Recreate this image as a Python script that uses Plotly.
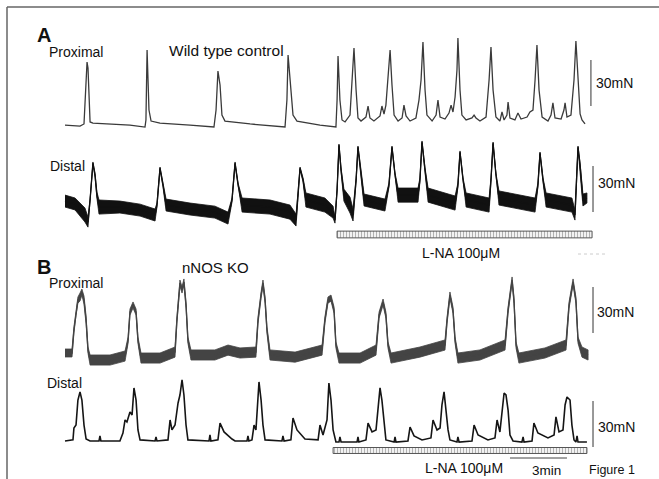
import numpy as np
import plotly.graph_objects as go

# ---------------- data (time in min, force in mN above each trace's resting tone) ----------------
a_prox_t = [0.00, 0.79, 1.00, 1.11, 1.16, 1.21, 1.26, 1.32, 1.47, 2.37, 3.42, 4.21, 4.26, 4.32, 4.37, 4.42, 4.53, 5.00,
            6.58, 7.84, 7.95, 8.05, 8.16, 8.26, 8.42, 9.74, 11.58, 11.68, 11.74, 11.84, 12.00, 12.21, 13.42,
            14.26, 14.32, 14.37, 14.47, 14.58, 14.74, 15.00, 15.11, 15.16, 15.21, 15.32, 15.42, 15.58, 15.84,
            15.95, 16.05, 16.26, 16.58, 16.68, 16.79, 16.89, 17.00, 17.11, 17.21, 17.32, 17.53, 17.74, 17.84,
            17.95, 18.16, 18.47, 18.63, 18.74, 18.84, 18.95, 19.05, 19.32, 19.53, 19.63, 19.74, 20.00, 20.21,
            20.32, 20.42, 20.53, 20.63, 20.68, 20.79, 20.89, 21.11, 21.42, 21.53, 21.63, 21.84, 22.16, 22.32,
            22.42, 22.53, 22.68, 22.89, 23.00, 23.11, 23.26, 23.32, 23.42, 23.68, 23.84, 24.00, 24.32, 24.47,
            24.63, 24.74, 24.84, 24.95, 25.11, 25.42, 25.58, 25.68, 25.79, 26.11, 26.26, 26.32, 26.42, 26.63,
            26.79, 26.89, 27.00, 27.11, 27.21, 27.37]
a_prox_f = [0.0, -0.7, 0.7, 29.4, 41.1, 37.2, 16.3, 2.0, 1.3, 0.7, 0.0, -1.3, 3.3, 48.9, 32.6, 9.8, 2.6, 1.3,
            0.0, -1.3, 9.8, 35.2, 26.1, 6.5, 2.6, 0.7, -1.3, 16.3, 45.7, 29.4, 6.5, 2.6, 0.0,
            -1.3, 16.3, 45.0, 16.3, 3.3, 2.0, 6.5, 26.1, 34.6, 50.2, 22.8, 4.6, 2.6, 5.2,
            12.4, 4.6, 2.6, 5.9, 12.4, 7.2, 13.0, 29.4, 48.9, 26.1, 6.5, 2.6, 4.6, 13.0,
            5.9, 2.6, 4.6, 16.3, 29.4, 54.1, 22.8, 6.5, 2.6, 6.5, 16.3, 5.2, 3.9, 7.8,
            13.0, 8.5, 18.3, 35.9, 56.8, 22.8, 6.5, 3.3, 4.6, 6.5, 4.6, 2.6, 5.2, 29.4,
            50.9, 22.8, 5.2, 2.6, 8.5, 3.3, 6.5, 15.0, 4.6, 3.3, 7.8, 3.9, 5.2, 8.5,
            9.8, 29.4, 52.2, 22.8, 5.2, 2.6, 6.5, 14.4, 4.6, 3.9, 9.8, 14.4, 5.2, 6.5,
            29.4, 54.8, 26.1, 7.2, 3.3, 0.7]

a_dist_t = [0.00, 0.53, 1.05, 1.21, 1.32, 1.47, 1.58, 1.68, 1.79, 2.89, 3.95, 4.74, 4.84, 5.00, 5.16, 5.32,
            6.58, 7.89, 8.58, 8.79, 8.95, 9.11, 9.32, 10.79, 11.84, 12.16, 12.26, 12.37, 12.53, 12.68,
            13.68, 14.11, 14.21, 14.32, 14.42, 14.53, 14.68, 15.00, 15.16, 15.32, 15.42, 15.58, 15.74,
            16.84, 17.05, 17.21, 17.37, 17.53, 18.58, 18.68, 18.79, 18.95, 19.11, 20.53, 20.68, 20.79,
            20.95, 21.11, 22.32, 22.42, 22.53, 22.68, 22.84, 24.74, 24.89, 25.00, 25.16, 25.32, 26.68,
            26.84, 26.95, 27.00, 27.11, 27.26, 27.47]
a_dist_f = [2.6, 0.7, -6.5, -11.1, 3.3, 27.4, 19.6, 6.5, -1.3, -1.3, -3.3, -6.5, 0.0, 24.1, 13.0, 0.0,
            -2.6, -4.6, -8.5, 3.3, 27.4, 13.0, 0.0, -1.3, -4.6, -9.8, 6.5, 24.1, 16.3, 3.3,
            0.0, -4.6, -9.8, 9.8, 39.1, 22.8, 6.5, 0.0, -6.5, 16.3, 37.8, 19.6, 3.3,
            0.0, 13.0, 37.8, 19.6, 6.5, 6.5, 16.3, 41.1, 22.8, 6.5, 1.3, 13.0, 34.6,
            16.3, 3.3, 0.0, 16.3, 40.4, 19.6, 4.6, 0.0, 13.0, 33.9, 16.3, 3.3, 0.0,
            -6.5, 22.8, 37.8, 26.1, 3.3, 4.6]
a_dist_noise = [3.9, 3.9, 4.6, 3.3, 0.7, 0.7, 1.3, 2.0, 4.6, 3.9, 3.9, 3.9, 1.3, 0.7, 1.3, 3.9,
                3.9, 3.9, 3.9, 1.3, 0.7, 1.3, 4.6, 4.6, 4.6, 3.9, 1.3, 0.7, 1.3, 4.6,
                4.6, 3.9, 2.0, 0.7, 0.7, 1.3, 3.9, 5.2, 3.9, 1.3, 0.7, 1.3, 3.9,
                3.9, 1.3, 0.7, 1.3, 4.6, 4.6, 1.3, 0.7, 1.3, 4.6, 4.6, 1.3, 0.7,
                1.3, 4.6, 4.6, 1.3, 0.7, 1.3, 4.6, 4.6, 1.3, 0.7, 1.3, 4.6, 4.6,
                3.3, 0.7, 0.7, 1.3, 3.9, 3.3]

b_prox_t = [0.00, 0.37, 0.47, 0.58, 0.68, 0.79, 0.89, 1.00, 1.11, 1.21, 1.32, 2.37, 3.16, 3.32, 3.42, 3.58,
            3.74, 3.84, 4.00, 5.00, 5.79, 5.89, 6.05, 6.16, 6.26, 6.37, 6.47, 6.63, 7.89, 8.58, 9.21,
            10.05, 10.16, 10.32, 10.42, 10.53, 10.63, 10.79, 12.11, 13.53, 13.68, 13.84, 14.00, 14.16,
            14.26, 14.42, 15.53, 16.37, 16.53, 16.74, 16.89, 17.00, 17.16, 18.68, 20.00, 20.11, 20.26,
            20.42, 20.53, 20.68, 21.84, 23.16, 23.32, 23.53, 23.63, 23.74, 23.89, 25.26, 26.37, 26.53,
            26.74, 26.89, 27.00, 27.21, 27.53]
b_prox_f = [2.0, 2.0, 17.0, 28.7, 36.5, 38.5, 41.7, 36.5, 23.5, 3.9, -2.6, -2.6, 0.0, 10.4, 28.7, 33.3,
            28.7, 10.4, -1.3, -1.3, 2.6, 23.5, 47.6, 43.1, 48.3, 33.3, 10.4, 0.7, 0.7, 3.9, 2.0,
            2.6, 23.5, 39.8, 47.6, 36.5, 17.0, 0.7, -0.7, 3.9, 23.5, 36.5, 37.8, 30.0,
            7.2, -1.3, -1.3, 3.9, 26.7, 35.2, 26.7, 7.2, -1.3, 2.6, 7.2, 23.5, 39.8,
            30.0, 10.4, -1.3, 0.7, 7.2, 30.0, 49.6, 36.5, 7.2, -1.3, 2.0, 7.2, 33.3,
            48.3, 36.5, 10.4, 2.6, 0.7]
b_prox_noise = [2.6, 2.6, 2.0, 2.0, 2.0, 2.6, 2.0, 2.6, 2.6, 2.0, 3.3, 3.3, 3.3, 2.0, 2.0, 2.0,
                2.0, 2.0, 3.3, 3.3, 3.3, 2.0, 2.0, 2.0, 2.0, 2.0, 2.0, 3.3, 3.3, 3.3, 3.3,
                3.3, 2.0, 2.0, 2.0, 2.0, 2.0, 3.3, 3.3, 3.3, 2.0, 2.0, 2.0, 2.0,
                2.0, 3.3, 3.3, 3.3, 2.0, 2.0, 2.0, 2.0, 3.3, 3.3, 3.3, 2.0, 2.0,
                2.0, 2.0, 3.3, 3.3, 3.3, 2.0, 2.0, 2.0, 2.0, 3.3, 3.3, 3.3, 2.0,
                2.0, 2.0, 2.0, 3.3, 3.3]

b_dist_t = [0.00, 0.42, 0.47, 0.58, 0.68, 0.79, 0.89, 1.00, 1.11, 1.32, 1.79, 1.84, 1.89, 2.89, 3.05, 3.16,
            3.26, 3.42, 3.53, 3.63, 3.74, 3.84, 3.95, 4.74, 4.79, 4.84, 5.42, 5.53, 5.63, 5.79, 5.95,
            6.05, 6.16, 6.26, 6.37, 6.47, 7.58, 7.63, 7.68, 8.05, 8.16, 8.37, 8.79, 8.95, 9.58, 9.63,
            9.68, 9.84, 9.95, 10.05, 10.21, 10.32, 10.42, 10.53, 11.42, 11.47, 11.53, 11.89, 12.00,
            12.21, 12.63, 13.32, 13.42, 13.58, 13.79, 13.89, 14.00, 14.11, 14.26, 14.42, 14.47, 14.53,
            15.37, 15.42, 15.47, 15.84, 15.95, 16.16, 16.37, 16.47, 16.58, 16.68, 16.79, 16.89, 17.32,
            17.37, 17.42, 18.05, 18.16, 18.37, 18.79, 19.26, 19.37, 19.58, 19.74, 19.84, 19.95, 20.05,
            20.16, 20.26, 20.63, 20.68, 20.74, 21.42, 21.53, 21.74, 22.26, 22.63, 22.74, 22.89, 23.00,
            23.11, 23.21, 23.32, 23.42, 23.58, 24.05, 24.11, 24.16, 24.58, 24.68, 24.89, 25.42, 25.74,
            25.84, 26.00, 26.21, 26.32, 26.42, 26.58, 26.68, 26.79, 26.89, 26.95, 27.00, 27.47]
b_dist_f = [0.0, 0.7, 8.5, 10.4, 26.7, 32.0, 26.7, 10.4, 1.3, 0.0, 0.0, 3.3, 0.0, 0.0, 5.2, 13.7,
            12.4, 18.9, 17.0, 34.6, 26.7, 7.2, 0.7, 0.0, 2.6, 0.0, 0.7, 13.7, 7.2, 10.4, 24.8,
            30.0, 39.8, 30.0, 10.4, 0.7, 0.0, 3.9, 0.0, 0.7, 11.7, 5.9, 1.3, 0.0, 0.0, 3.3,
            0.0, 0.7, 10.4, 7.2, 38.5, 26.7, 10.4, 0.7, 0.0, 3.3, 0.0, 0.7, 15.0,
            7.2, 1.3, 0.7, 10.4, 3.9, 13.7, 37.8, 26.7, 7.2, -0.7, -0.7, 2.6, -0.7,
            -0.7, 2.6, -0.7, 0.7, 11.7, 5.9, 7.2, 20.2, 34.6, 26.7, 10.4, 0.7, -0.7,
            2.6, -0.7, 0.0, 9.1, 3.3, 0.7, 2.0, 13.7, 7.2, 8.5, 23.5, 32.0, 18.9,
            7.2, 0.7, -0.7, 2.6, -0.7, 0.0, 10.4, 3.9, 0.7, 2.0, 13.7, 5.9, 17.0,
            31.3, 30.0, 20.2, 3.9, 0.0, -0.7, 2.6, -0.7, 0.0, 11.7, 5.2, 2.0, 3.9,
            15.7, 5.9, 7.2, 23.5, 28.7, 26.7, 10.4, 0.7, -0.7, 3.3, -0.7, -0.7]

drug_a = [14.32, 27.74]      # L-NA application, panel A (min)
drug_b = [14.11, 27.47]      # L-NA application, panel B (min)
scale_time = [23.42, 26.42]  # 3 min calibration
scale_force = 30             # mN calibration

# ---------------- layout constants (positions) ----------------
W, H = 659, 479
PX_PER_MIN, PX_PER_MN = 19.0, 1.533
X0 = 65
XR = [-X0 / PX_PER_MIN, (W - X0) / PX_PER_MIN]
YR = [0, H / PX_PER_MN]
off = {"ap": 230.9, "ad": 178.7, "bp": 80.2, "bd": 24.8}
sb_x = {"ap": 27.68, "ad": 27.79, "bp": 27.79, "bd": 27.79}
sb_y0 = {"ap": 12.4, "ad": -4.6, "bp": 15.0, "bd": -3.9}
FONT = "Arial, Liberation Sans, sans-serif"

fig = go.Figure()


def band(t, f, n, o, color):
    t = np.array(t); f = np.array(f); n = np.array(n)
    xs = np.concatenate([t, t[::-1]])
    ys = np.concatenate([f + n, (f - n)[::-1]]) + o
    fig.add_trace(go.Scatter(x=xs, y=ys, fill="toself", fillcolor=color, mode="lines",
                             line=dict(color=color, width=0.8), hoverinfo="skip"))
    fig.add_trace(go.Scatter(x=t, y=f + o, mode="lines", line=dict(color=color, width=1.3),
                             hoverinfo="skip"))


# A proximal
fig.add_trace(go.Scatter(x=a_prox_t, y=np.array(a_prox_f) + off["ap"], mode="lines",
                         line=dict(color="#3a3a3a", width=1.3)))
# A distal
band(a_dist_t, a_dist_f, a_dist_noise, off["ad"], "#111111")
# B proximal
band(b_prox_t, b_prox_f, b_prox_noise, off["bp"], "#444444")
# B distal
fig.add_trace(go.Scatter(x=b_dist_t, y=np.array(b_dist_f) + off["bd"], mode="lines",
                         line=dict(color="#151515", width=1.6)))

# drug bars (hatched)
for d, yc, wd in [(drug_a, 159.5, 4.4), (drug_b, 18.6, 3.9)]:
    fig.add_trace(go.Bar(orientation="h", base=[d[0]], x=[d[1] - d[0]], y=[yc], width=wd,
                         marker=dict(color="white", line=dict(color="#555555", width=1),
                                     pattern=dict(shape="|", size=3, solidity=0.45,
                                                  fgcolor="#666666", bgcolor="white"))))

# force scale bars
for k in off:
    fig.add_shape(type="line", x0=sb_x[k], x1=sb_x[k], y0=off[k] + sb_y0[k],
                  y1=off[k] + sb_y0[k] + scale_force, line=dict(color="#555555", width=1.2))
# time scale bar
fig.add_shape(type="line", x0=scale_time[0], x1=scale_time[1], y0=13.7, y1=13.7,
              line=dict(color="#444444", width=1))

# frame
fig.add_shape(type="line", xref="paper", yref="paper", x0=7 / W, x1=7 / W, y0=0, y1=1 - 7 / H,
              line=dict(color="#666666", width=1.5))
fig.add_shape(type="line", xref="paper", yref="paper", x0=7 / W, x1=1, y0=1 - 7 / H, y1=1 - 7 / H,
              line=dict(color="#666666", width=1.5))
# faint dotted mark
fig.add_shape(type="line", xref="paper", yref="paper", x0=578 / W, x1=606 / W, y0=1 - 254 / H,
              y1=1 - 254 / H, line=dict(color="#cccccc", width=1, dash="dot"))

texts = [
    ("A", 35, 35, 20, True), ("Proximal", 47, 52, 14, False), ("Wild type control", 167, 50, 15.5, False),
    ("Distal", 48, 166, 14, False), ("30mN", 594, 83, 14, False), ("30mN", 596, 183, 14, False),
    ("L-NA 100μM", 420, 253, 14, False),
    ("B", 35, 267, 20, True), ("nNOS KO", 180, 267, 15, False), ("Proximal", 47, 283, 14, False),
    ("Distal", 45, 383, 14, False), ("30mN", 595, 312, 14, False), ("30mN", 596, 427, 14, False),
    ("L-NA 100μM", 423, 468, 14, False), ("3min", 530, 470, 13.5, False), ("Figure 1", 587, 470, 12.5, False),
]
for s, x, y, sz, b in texts:
    fig.add_annotation(x=x / W, y=1 - y / H, xref="paper", yref="paper", text=f"<b>{s}</b>" if b else s,
                       showarrow=False, xanchor="left", yanchor="middle",
                       font=dict(family=FONT, size=sz, color="#111111"))

fig.update_layout(width=W, height=H, margin=dict(l=0, r=0, t=0, b=0), showlegend=False,
                  plot_bgcolor="white", paper_bgcolor="white", barmode="overlay",
                  xaxis=dict(range=XR, visible=False, fixedrange=True),
                  yaxis=dict(range=YR, visible=False, fixedrange=True))
fig.write_html("out.html", config={"displayModeBar": False},
               post_script="document.body.style.margin='0';document.body.style.overflow='hidden';")
